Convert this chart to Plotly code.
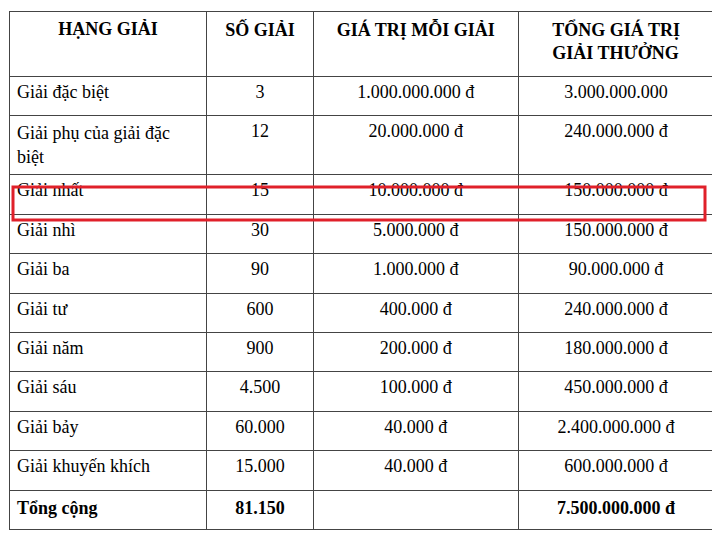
import plotly.graph_objects as go

headers = ["<b>HẠNG GIẢI</b>", "<b>SỐ GIẢI</b>", "<b>GIÁ TRỊ MỖI GIẢI</b>",
           "<b>TỔNG GIÁ TRỊ<br>GIẢI THƯỞNG</b>"]
prizes = ["Giải đặc biệt", "Giải phụ của giải đặc<br>biệt", "Giải nhất", "Giải nhì",
          "Giải ba", "Giải tư", "Giải năm", "Giải sáu", "Giải bảy",
          "Giải khuyến khích", "<b>Tổng cộng</b>"]
counts = ["3", "12", "15", "30", "90", "600", "900", "4.500", "60.000", "15.000",
          "<b>81.150</b>"]
unit_values = ["1.000.000.000 đ", "20.000.000 đ", "10.000.000 đ", "5.000.000 đ",
               "1.000.000 đ", "400.000 đ", "200.000 đ", "100.000 đ", "40.000 đ",
               "40.000 đ", ""]
totals = ["3.000.000.000", "240.000.000 đ", "150.000.000 đ", "150.000.000 đ",
          "90.000.000 đ", "240.000.000 đ", "180.000.000 đ", "450.000.000 đ",
          "2.400.000.000 đ", "600.000.000 đ", "<b>7.500.000.000 đ</b>"]

font = dict(family="Liberation Serif", size=18, color="black")

fig = go.Figure(go.Table(
    columnwidth=[197, 106, 204, 195],
    header=dict(values=headers, align="center", height=65, font=font,
                fill_color="white", line=dict(color="#444", width=1)),
    cells=dict(values=[prizes, counts, unit_values, totals],
               align=["left", "center", "center", "center"], height=39.4,
               font=font, fill_color="white", line=dict(color="#444", width=1)),
    domain=dict(x=[1 / 720, 706 / 720], y=[0, 1 - 3 / 540]),
))

# red highlight around "Giải nhất"
fig.add_shape(type="rect", xref="paper", yref="paper",
              x0=5 / 720, x1=697 / 720, y0=1 - 212 / 540, y1=1 - 179 / 540,
              line=dict(color="#e0202a", width=3))

fig.update_layout(width=720, height=540, margin=dict(l=0, r=0, t=0, b=0),
                  paper_bgcolor="white", plot_bgcolor="white")
fig.write_html("out.html")
